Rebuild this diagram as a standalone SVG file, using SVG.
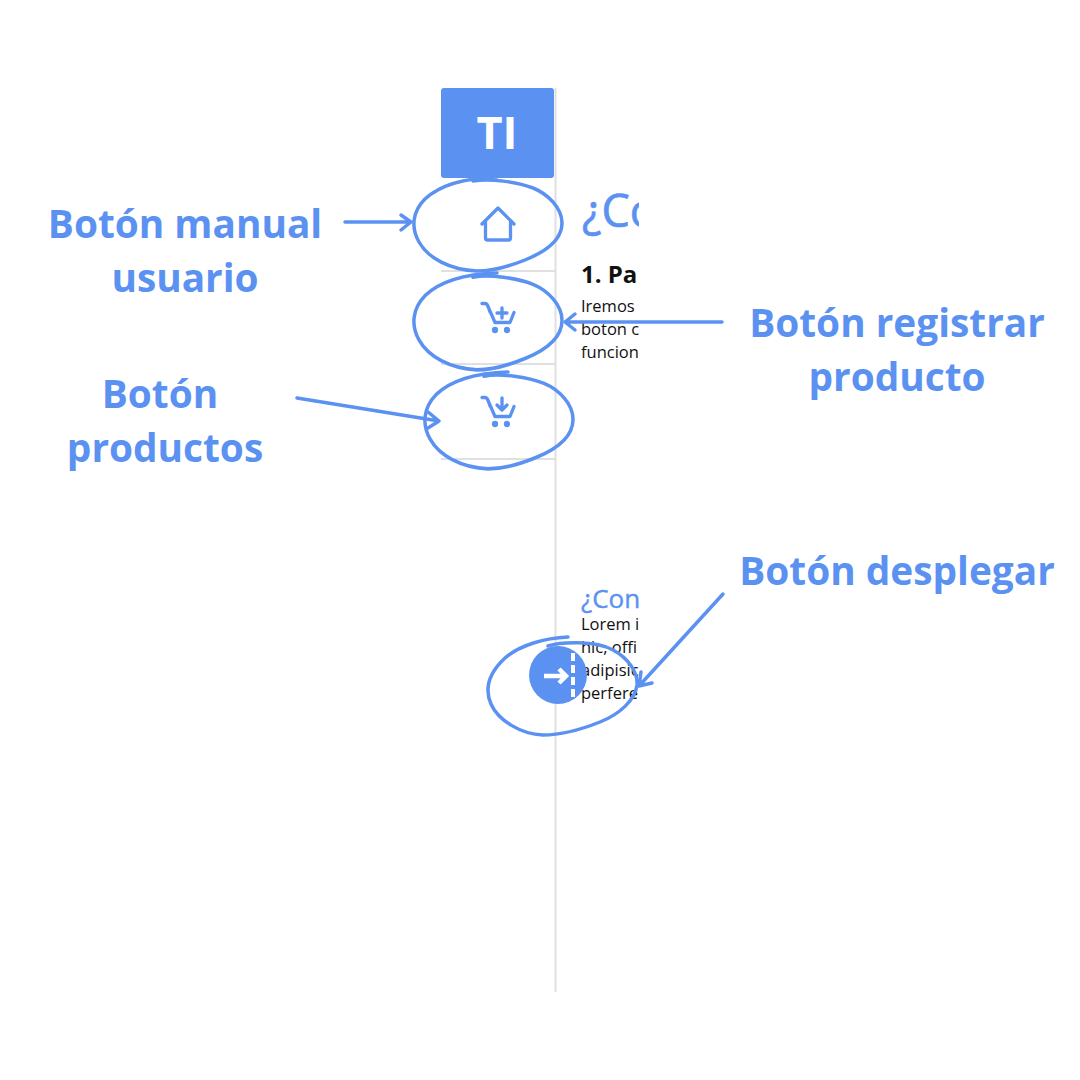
<svg xmlns="http://www.w3.org/2000/svg" width="1080" height="1080" viewBox="0 0 1080 1080">
<style>
.lb{font:700 38.800px "Open Sans",sans-serif;fill:#5b92f2;text-anchor:middle}
.tx{font:400 16.500px "Open Sans",sans-serif;fill:#111}
.ln{stroke:#5b92f2;stroke-width:3.5;fill:none;stroke-linecap:round;stroke-linejoin:round}
.ic{stroke:#5b92f2;stroke-width:3.300;fill:none;stroke-linecap:round;stroke-linejoin:round}
.gr{stroke:#e0e0e0;stroke-width:2;fill:none}
</style>
<defs>
<clipPath id="cl"><rect x="570" y="180" width="69" height="540"/></clipPath>
<path id="sk" d="M473 181C490 178 517 182 533 188C548 194 562 208 562 223C562 240 545 252 525 260C510 266 495 271 477 271C450 270 428 258 419 242C411 228 412 212 425 199C440 185 465 178 497 177"/>
<g id="cart"><path d="M482 303.500h3q2 0 3 3l7 16h15l4-10M488 306l2 6"/><circle cx="495" cy="330" r="1.500" fill="#5b92f2"/><circle cx="507" cy="330" r="1.500" fill="#5b92f2"/></g>
</defs>
<rect width="1080" height="1080" fill="#fff"/>
<g id="sidebar">
<path class="gr" d="M555.500 88V992M441 271H555M441 364H555M441 459H555"/>
</g>
<g id="content" clip-path="url(#cl)">
<text x="582" y="227" stroke="#5b92f2" stroke-width="0.700" style="font:500 45px 'Open Sans',sans-serif;fill:#5b92f2">¿Co</text>
<text x="581" y="283" style="font:700 24px 'Open Sans',sans-serif;fill:#111">1. Pa</text>
<text class="tx" x="581" y="312">Iremos</text>
<text class="tx" x="581" y="335">boton c</text>
<text class="tx" x="581" y="358">funcion</text>
<text x="581" y="608" stroke="#5b92f2" stroke-width="0.400" style="font:500 26px 'Open Sans',sans-serif;fill:#5b92f2">¿Con</text>
<text class="tx" x="581" y="630">Lorem i</text>
<text class="tx" x="581" y="653">hic, offi</text>
<text class="tx" x="581" y="676">adipisic</text>
<text class="tx" x="581" y="699">perfere</text>
</g>
<g id="logo">
<rect x="441" y="88" width="113" height="90" rx="3" fill="#5b92f2"/>
<text x="497" y="149" text-anchor="middle" style="font:700 45px 'Open Sans',sans-serif;fill:#fff">TI</text>
</g>
<g id="btn-home"><path class="ic" d="M482 224L498 208L514 224M485.500 222V238q0 2 2 2h21q2 0 2-2V222"/></g>
<g id="btn-add" class="ic"><use href="#cart"/><path d="M502 308v10M497 313h10"/></g>
<g id="btn-prod" class="ic"><use href="#cart" y="94"/><path d="M502 398v11M497 405l5 5l5-5"/></g>
<g id="btn-toggle">
<circle cx="558" cy="675" r="29" fill="#5b92f2"/>
<path d="M544 676H565M559 669l7 7l-7 7" stroke="#fff" stroke-width="4.500" fill="none"/>
<path d="M573 653V698" stroke="#fff" stroke-width="4" stroke-dasharray="8 4" fill="none"/>
</g>
<g id="sketches" class="ln">
<use href="#sk"/>
<use href="#sk" transform="translate(0,90.700) scale(1,1.030)"/>
<use href="#sk" transform="translate(11,189.700) scale(1,1.030)"/>
<path d="M548 646C560 642 595 640 613 650C628 658 638 672 637 685C635 700 620 714 600 722C580 730 560 735 543 735C520 734 498 720 491 704C484 688 490 672 505 658C520 645 545 638 568 637"/>
</g>
<g id="connectors" class="ln">
<path d="M345 222H411M401 215L411 222L401 230"/>
<path d="M722 322H565M575 314L565 322L575 330"/>
<path d="M297 398L439 421M428 412L439 421L428 428"/>
<path d="M723 594L639 686M641 672L639 686L652 683"/>
</g>
<g id="labels">
<text class="lb" x="185" y="238">Botón manual</text>
<text class="lb" x="185" y="292">usuario</text>
<text class="lb" x="897" y="337">Botón registrar</text>
<text class="lb" x="897" y="391">producto</text>
<text class="lb" x="160" y="408">Botón</text>
<text class="lb" x="165" y="462">productos</text>
<text class="lb" x="897" y="585">Botón desplegar</text>
</g>
</svg>
